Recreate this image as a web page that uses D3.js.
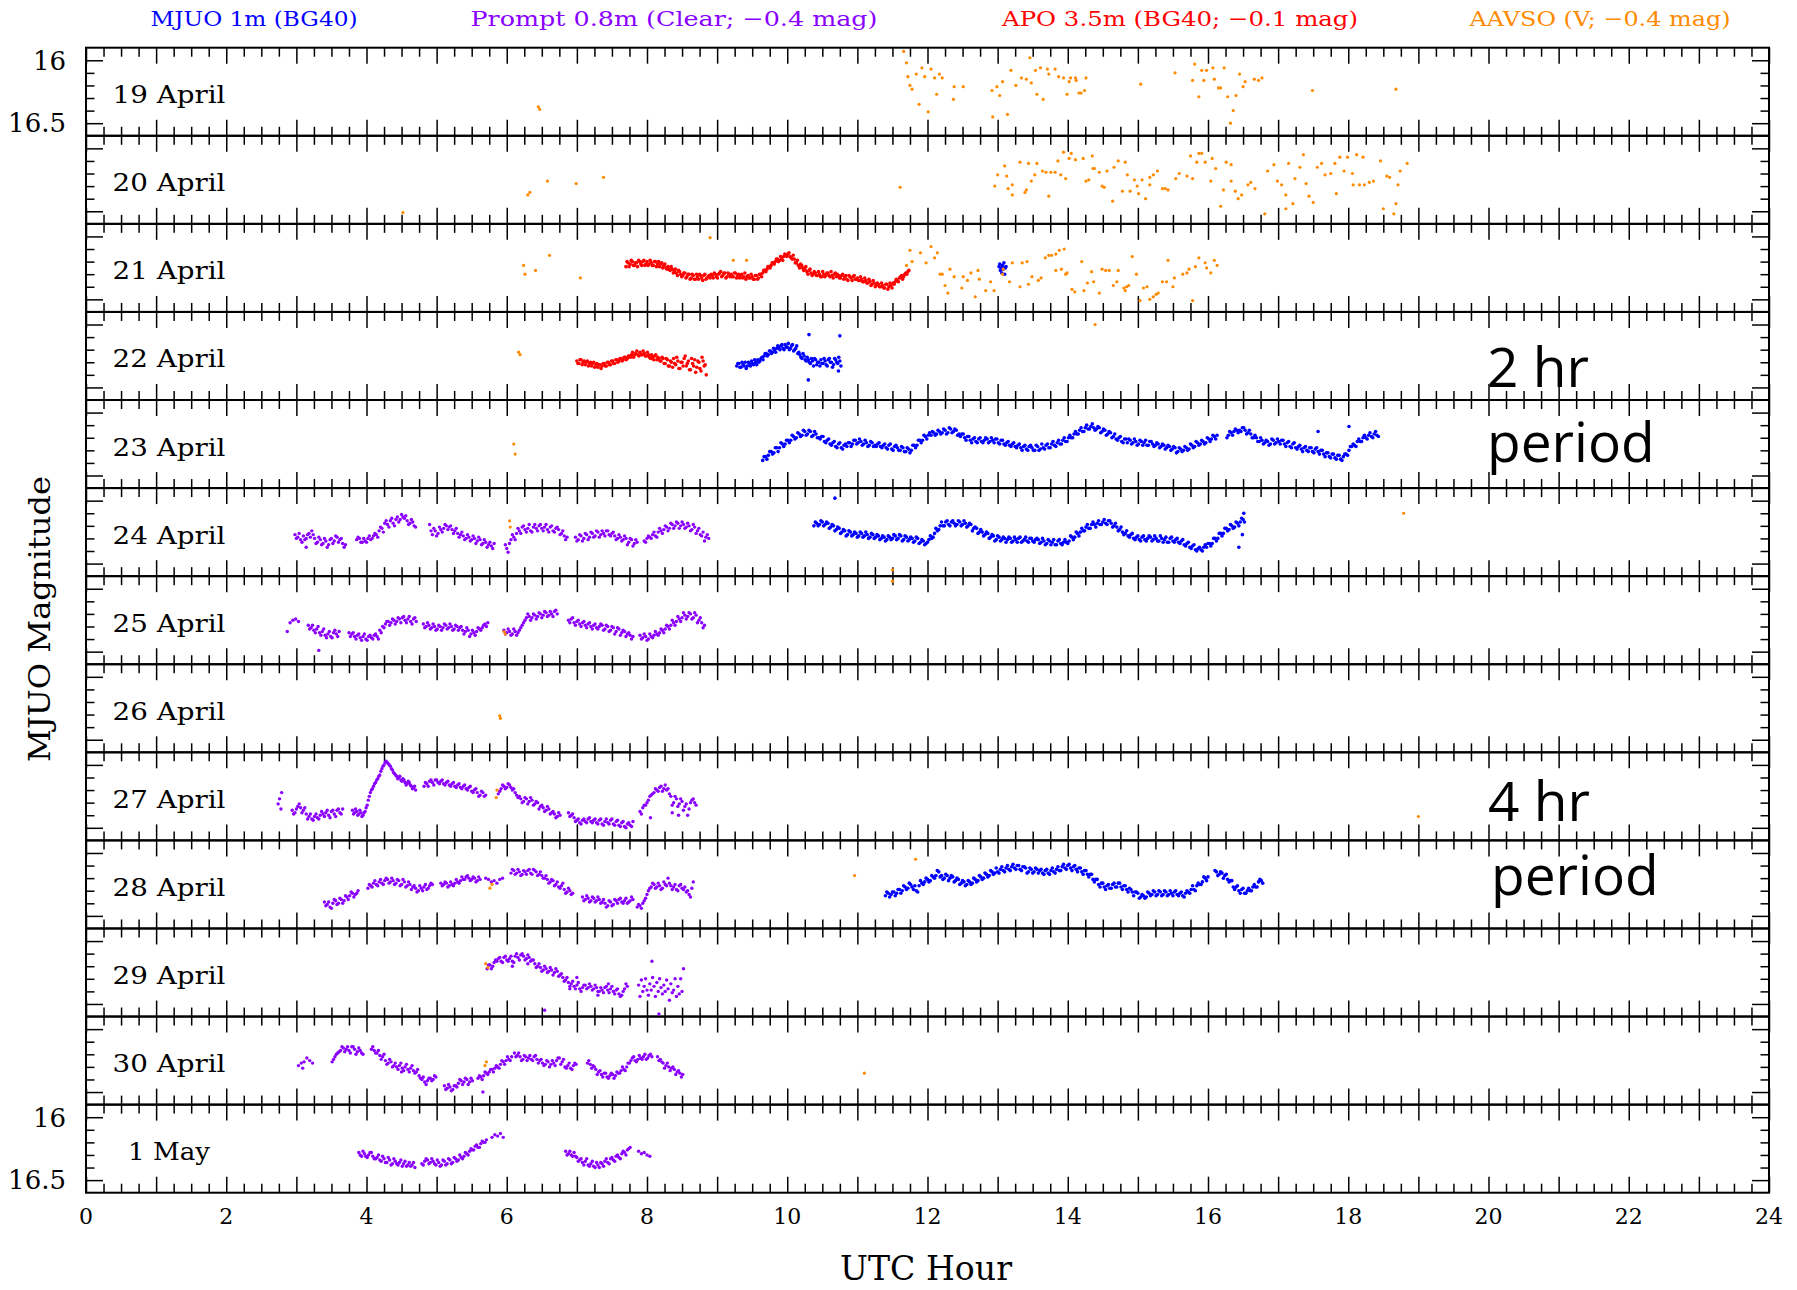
<!DOCTYPE html>
<html>
<head>
<meta charset="utf-8">
<script src="https://cdn.jsdelivr.net/npm/d3@7"></script>
<style>
  body { margin: 0; background: #fff; }
  svg { display: block; }
</style>
</head>
<body>
<svg id="chart" width="1797" height="1290"></svg>
<script>
// ---- Nights (one strip per UTC date) ----
const nights = ["19 April", "20 April", "21 April", "22 April", "23 April", "24 April",
  "25 April", "26 April", "27 April", "28 April", "29 April", "30 April", "1 May"];

// ---- Axis labels ----
const hourLabels = [0, 2, 4, 6, 8, 10, 12, 14, 16, 18, 20, 22, 24];
const magLabels = [16, 16.5];
const magMinor = [16.1, 16.2, 16.3, 16.4];

// ---- Legend ----
const legendItems = [
  { text: "MJUO 1m (BG40)", color: "#0000ff", cx: 254, len: 207 },
  { text: "Prompt 0.8m (Clear; \u22120.4 mag)", color: "#8a00ff", cx: 674, len: 407 },
  { text: "APO 3.5m (BG40; \u22120.1 mag)", color: "#ff0000", cx: 1180, len: 356 },
  { text: "AAVSO (V; \u22120.4 mag)", color: "#ff8a00", cx: 1600, len: 261 }
];

// ---- MJUO 1m photometry: runs at a fixed cadence (hours), magnitudes ----
const mjuoRuns = [
  { night: 2, t0: 13.02, dt: 0.01, mags: [16.24,16.22,16.27,16.25,16.29,16.23,16.26,16.21,16.30,16.25,16.24] },
  { night: 3, t0: 9.28, dt: 0.03, mags: [
    16.33,16.31,16.34,16.32,16.30,16.33,16.31,16.29,16.32,16.30,
    16.28,16.29,16.26,16.25,16.23,16.24,16.21,16.22,16.20,16.19,
    16.18,16.17,16.19,16.16,16.18,16.20,16.17,16.21,16.19,16.23,
    16.24,16.27,16.25,16.29,16.28,16.31,16.29,16.27,16.32,16.30,
    16.28,16.31,16.29,16.33,16.27,16.30,16.32,16.28,16.31,16.29] },
  { night: 3, t0: 9.295, dt: 0.03, mags: [
    16.31,16.34,16.30,16.33,16.35,16.30,16.33,16.31,16.28,16.32,
    16.30,16.27,16.28,16.23,16.25,16.21,16.23,16.19,16.22,16.17,
    16.20,16.16,16.20,16.18,16.15,16.19,16.16,16.20,16.17,16.22,
    16.26,16.23,16.28,16.26,16.30,16.27,16.33,16.28,16.30,16.33,
    16.31,16.27,16.32,16.28,16.30,16.34,16.27,16.30,16.26,16.33] },
  { night: 4, t0: 9.65, dt: 0.04, mags: [
    16.38,16.35,16.34,16.31,16.32,16.28,16.28,16.25,16.25,16.22,
    16.22,16.19,16.20,16.17,16.18,16.15,16.17,16.15,16.18,16.17,
    16.20,16.19,16.23,16.22,16.25,16.24,16.27,16.25,16.28,16.26,
    16.27,16.24,16.25,16.22,16.24,16.23,16.25,16.24,16.26,16.24,
    16.26,16.25,16.27,16.26,16.28,16.26,16.29,16.27,16.28,16.30,
    16.28,16.31,16.29,16.30,16.26,16.26,16.22,16.22,16.19,16.18,
    16.18,16.16,16.17,16.15,16.16,16.14,16.16,16.13,16.15,16.14,
    16.17,16.17,16.20,16.19,16.22,16.21,16.23,16.21,16.23,16.22,
    16.21,16.23,16.22,16.21,16.24,16.22,16.25,16.24,16.26,16.25,
    16.27,16.26,16.28,16.27,16.29,16.27,16.28,16.30,16.27,16.29,
    16.28,16.26,16.28,16.25,16.26,16.24,16.25,16.22,16.23,16.20,
    16.20,16.17,16.17,16.14,16.15,16.12,16.13,16.11,16.12,16.13,
    16.12,16.15,16.14,16.17,16.16,16.19,16.21,16.20,16.23,16.21,
    16.24,16.22,16.24,16.23,16.25,16.23,16.24,16.26,16.23,16.25,
    16.26,16.25,16.27,16.26,16.28,16.27,16.29,16.28,16.31,16.29,
    16.30,16.28,16.29,16.26,16.27,16.24,16.25,16.23,16.24,16.21,
    16.21,16.19,16.18,null,null,null,16.18,16.16,16.15,16.14,
    16.14,16.12,16.14,16.16,16.17,16.20,16.20,16.23,16.22,16.24,
    16.23,16.25,16.22,16.24,16.23,16.22,16.25,16.24,16.27,16.25,
    16.28,16.27,16.29,16.28,16.30,16.28,16.31,16.29,16.31,16.30,
    16.33,16.32,16.35,16.33,16.36,16.34,16.37,16.35,16.33,16.30,
    16.27,16.26,16.23,16.23,16.20,16.20,16.18,16.19,16.17,16.18] },
  { night: 4, t0: 9.67, dt: 0.04, mags: [
    16.35,16.37,16.31,16.33,16.28,16.31,16.24,16.27,16.22,16.24,
    16.18,16.21,16.16,16.19,16.14,16.18,16.14,16.19,16.15,16.20,
    16.21,16.19,16.24,16.21,16.26,16.23,16.28,16.24,16.29,16.25,
    16.24,16.27,16.22,16.25,16.21,16.26,16.22,16.27,16.23,16.27,
    16.27,16.24,16.28,16.25,16.29,16.25,16.30,16.26,16.30,16.27,
    16.31,16.28,16.32,16.26,16.28,16.22,16.24,16.18,16.21,16.16,
    16.15,16.18,16.14,16.17,16.13,16.17,16.12,16.16,16.13,16.18,
    16.19,16.17,16.22,16.19,16.24,16.20,16.24,16.20,16.24,16.20,
    16.24,16.20,16.24,16.21,16.25,16.22,16.26,16.23,16.27,16.24,
    16.28,16.25,16.30,16.26,16.30,16.26,16.30,16.26,16.30,16.25,
    16.29,16.25,16.28,16.23,16.27,16.22,16.25,16.20,16.23,16.18,
    16.20,16.15,16.17,16.12,16.15,16.10,16.13,16.09,16.14,16.11,
    16.16,16.13,16.18,16.15,16.20,16.17,16.22,16.19,16.24,16.21,
    16.21,16.25,16.21,16.26,16.22,16.26,16.22,16.26,16.23,16.27,
    16.24,16.28,16.25,16.29,16.26,16.30,16.27,16.32,16.28,16.31,
    16.27,16.30,16.25,16.28,16.23,16.26,16.22,16.25,16.20,16.23,
    16.18,16.21,null,null,null,16.20,16.15,16.18,16.13,16.16,
    16.15,16.12,16.17,16.14,16.20,16.18,16.23,16.20,16.25,16.22,
    16.26,16.21,16.25,16.21,16.25,16.22,16.27,16.23,16.28,16.24,
    16.29,16.26,16.31,16.27,16.31,16.28,16.32,16.28,16.33,16.30,
    16.35,16.32,16.36,16.33,16.37,16.34,16.38,16.33,16.34,16.27,
    16.25,16.27,16.21,16.23,16.18,16.21,16.16,16.20,16.15,16.19] },
  { night: 5, t0: 10.38, dt: 0.04, mags: [
    16.20,16.18,16.19,16.17,16.19,16.18,16.21,16.20,16.23,16.22,
    16.25,16.24,16.27,16.25,16.27,16.26,16.28,16.26,16.28,16.27,
    16.29,16.27,16.29,16.28,16.30,16.29,16.31,16.29,16.30,16.28,
    16.30,16.28,16.31,16.29,16.31,16.30,16.32,16.30,16.33,16.32,
    16.34,16.31,16.30,16.26,16.24,16.20,16.20,16.17,16.19,16.17,
    16.18,16.19,16.17,16.19,16.18,16.20,16.19,16.22,16.22,16.25,
    16.25,16.27,16.26,16.29,16.28,16.31,16.29,16.31,16.30,16.31,
    16.30,16.32,16.31,16.30,16.33,16.31,16.32,16.30,16.32,16.31,
    16.31,16.33,16.32,16.34,16.32,16.33,16.35,16.32,16.34,16.33,
    16.33,16.32,16.29,16.29,16.26,16.25,16.24,16.21,16.22,16.19,
    16.19,16.18,16.19,16.17,16.18,16.16,16.18,16.20,16.21,16.23,
    16.25,16.26,16.28,16.27,16.30,16.29,16.31,16.29,16.31,16.30,
    16.29,16.31,16.30,16.32,16.30,16.31,16.33,16.30,16.32,16.31,
    16.33,16.32,16.35,16.34,16.37,16.36,16.39,16.38,16.39,16.37,
    16.37,16.34,16.34,16.30,16.30,16.26,16.26,16.22,16.23,16.20,
    16.21,16.18,16.17,16.15] },
  { night: 5, t0: 10.40, dt: 0.04, mags: [
    16.17,16.20,16.16,16.20,16.17,16.22,16.19,16.24,16.21,16.26,
    16.23,16.28,16.24,16.28,16.25,16.29,16.25,16.29,16.25,16.30,
    16.26,16.30,16.27,16.31,16.28,16.32,16.28,16.31,16.27,16.31,
    16.27,16.32,16.28,16.32,16.29,16.33,16.29,16.34,16.31,16.35,
    16.33,16.28,16.29,16.22,16.23,16.17,16.20,16.16,16.20,16.16,
    16.20,16.16,16.20,16.16,16.21,16.18,16.24,16.21,16.26,16.23,
    16.28,16.25,16.30,16.27,16.32,16.28,16.32,16.29,16.33,16.29,
    16.33,16.29,16.33,16.29,16.32,16.29,16.33,16.30,16.33,16.30,
    16.34,16.30,16.35,16.31,16.35,16.31,16.35,16.31,16.35,16.31,
    16.34,16.28,16.31,16.25,16.28,16.22,16.24,16.19,16.22,16.17,
    16.21,16.16,16.19,16.15,16.19,16.16,16.21,16.18,16.24,16.21,
    16.27,16.24,16.29,16.26,16.31,16.28,16.32,16.28,16.32,16.28,
    16.32,16.28,16.32,16.28,16.33,16.29,16.33,16.29,16.33,16.30,
    16.34,16.31,16.36,16.33,16.38,16.35,16.40,16.37,16.40,16.35,
    16.34,16.36,16.30,16.32,16.26,16.28,16.22,16.24,16.19,16.22,
    16.17,16.20,16.14,16.17] },
  { night: 9, t0: 11.40, dt: 0.04, mags: [
    16.34,16.32,16.33,16.31,16.32,16.29,16.30,16.27,16.28,16.25,
    16.29,16.30,16.26,16.24,16.23,16.21,16.22,16.19,16.18,16.15,
    16.18,16.20,16.18,16.20,16.19,16.22,16.21,16.24,16.23,16.25,
    16.23,16.24,16.21,16.22,16.19,16.20,16.17,16.18,16.15,16.16,
    16.15,16.13,16.14,16.12,16.13,16.11,16.12,16.10,16.13,16.11,
    16.12,16.15,16.13,16.15,16.13,16.14,16.16,16.14,16.16,16.14,
    16.15,16.13,16.14,16.11,16.12,16.10,16.12,16.11,16.13,16.12,
    16.15,16.14,16.17,16.17,16.21,16.21,16.25,16.24,16.27,16.26,
    16.28,16.25,16.27,16.24,16.27,16.26,16.29,16.28,16.31,16.31,
    16.32,16.35,16.34,16.35,16.32,16.33,16.31,16.33,16.31,16.33,
    16.31,16.33,16.32,16.31,16.33,16.32,16.34,16.32,16.31,16.29,
    16.29,16.26,16.25,16.23,16.20,16.19,null,null,16.15,16.17,
    16.16,16.18,16.21,16.22,16.27,16.27,16.30,16.29,16.32,16.30,
    16.30,16.27,16.27,16.23,16.22] },
  { night: 9, t0: 11.42, dt: 0.04, mags: [
    16.31,16.35,16.31,16.34,16.29,16.32,16.26,16.29,16.24,16.27,
    16.26,16.31,16.22,16.25,16.20,16.23,16.18,16.20,16.14,16.19,
    16.21,16.17,16.22,16.18,16.23,16.20,16.25,16.22,16.26,16.22,
    16.25,16.20,16.23,16.18,16.21,16.16,16.19,16.14,16.17,16.12,
    16.16,16.11,16.15,16.10,16.14,16.09,16.13,16.10,16.14,16.11,
    16.16,16.12,16.16,16.12,16.16,16.13,16.17,16.13,16.17,16.12,
    16.16,16.11,16.14,16.09,16.13,16.09,16.14,16.10,16.15,16.12,
    16.17,16.14,16.19,16.17,16.23,16.21,16.27,16.24,16.29,16.25,
    16.28,16.24,16.27,16.24,16.29,16.26,16.31,16.29,16.34,16.31,
    16.36,16.33,16.36,16.31,16.34,16.30,16.34,16.30,16.34,16.30,
    16.34,16.30,16.34,16.30,16.34,16.31,16.35,16.30,16.32,16.26,
    16.30,16.24,16.25,16.19,16.22,null,null,16.14,16.18,16.15,
    16.20,16.17,16.23,16.22,16.29,16.26,16.32,16.28,16.32,16.28,
    16.30,16.25,16.27,16.21,16.24] }
];
// isolated MJUO points: [night, hour, mag]
const mjuoExtra = [[3,10.31,16.08],[3,10.75,16.09],[3,10.30,16.44],[3,10.73,16.37],
  [4,17.57,16.15],[4,18.01,16.11],[5,10.68,15.98],[5,16.44,16.37],[5,16.51,16.10],[5,16.49,16.27]];

// ---- Prompt 0.8m photometry ----
const promptRuns = [
  { night: 5, t0: 2.98, dt: 0.04, mags: [16.27,16.29,16.31,16.28,16.30,16.26,16.24,16.30,16.33,16.31,16.34,16.32,16.35,16.30,16.32,16.29,16.31,16.34,16.35] },
  { night: 5, t0: 3.00, dt: 0.04, mags: [16.30,16.26,16.33,16.31,16.27,16.29,16.27,16.34,16.29,16.35,16.30,16.37,16.31,16.34,16.28,16.33,16.30,16.37] },
  { night: 5, t0: 3.86, dt: 0.04, mags: [16.31,16.30,16.33,16.32,16.30,16.31,16.28,16.27,16.24,16.22,16.18,16.19,16.16,16.18,16.15,16.17,16.11,16.14,16.16,16.18,16.17,16.21] },
  { night: 5, t0: 3.88, dt: 0.04, mags: [16.29,16.33,16.30,16.33,16.28,16.30,16.26,16.29,16.21,16.25,16.16,16.21,16.14,16.20,16.13,16.15,16.13,16.12,16.19,16.15,16.20] },
  { night: 5, t0: 4.90, dt: 0.04, mags: [16.19,16.27,16.24,16.26,16.23,16.22,16.20,16.21,16.23,16.24,16.26,16.27,16.28,16.30,16.29,16.31,16.30,16.32,16.31,16.34,16.33,16.35,16.36,16.34] },
  { night: 5, t0: 4.92, dt: 0.04, mags: [16.24,16.22,16.28,16.21,16.25,16.19,16.23,16.20,16.26,16.22,16.29,16.25,16.31,16.27,16.32,16.28,16.34,16.29,16.35,16.31,16.37,16.33,16.38] },
  { night: 5, t0: 5.98, dt: 0.04, mags: [16.35,16.41,16.31,16.29,16.26,16.24,16.21,16.23,16.22,16.24,16.21,16.22,16.20,16.22,16.21,16.23,16.21,16.24,16.22,16.23,16.26,16.28,16.29] },
  { night: 5, t0: 6.00, dt: 0.04, mags: [16.38,16.34,16.27,16.31,16.22,16.26,16.20,16.25,16.19,16.25,16.19,16.24,16.19,16.24,16.19,16.25,16.20,16.25,16.21,16.27,16.24,16.31] },
  { night: 5, t0: 6.98, dt: 0.04, mags: [16.29,16.31,16.28,16.30,16.27,16.29,16.26,16.28,16.25,16.27,16.26,16.24,16.27,16.26,16.28,16.30,16.29,16.31,16.30,16.33,16.31,16.34,16.33] },
  { night: 5, t0: 7.00, dt: 0.04, mags: [16.32,16.27,16.32,16.26,16.31,16.25,16.29,16.24,16.29,16.24,16.28,16.24,16.28,16.25,16.31,16.27,16.32,16.28,16.35,16.30,16.36,16.31] },
  { night: 5, t0: 7.96, dt: 0.04, mags: [16.32,16.30,16.29,16.27,16.28,16.25,16.24,16.23,16.21,16.22,16.19,16.20,16.18,16.20,16.19,16.21,16.20,16.23,16.21,16.24,16.27,16.25,16.29,16.30] },
  { night: 5, t0: 7.98, dt: 0.04, mags: [16.33,16.28,16.30,16.25,16.29,16.22,16.26,16.20,16.24,16.18,16.22,16.17,16.22,16.17,16.22,16.18,16.24,16.19,16.26,16.22,16.28,16.32,16.27] },

  { night: 6, t0: 2.87, dt: 0.04, mags: [16.34,16.27,16.25,16.24,16.26] },
  { night: 6, t0: 3.17, dt: 0.04, mags: [16.29,16.31,16.33,16.32,16.35,16.34,16.37,16.36,16.38,16.35,16.36,16.34] },
  { night: 6, t0: 3.19, dt: 0.04, mags: [16.32,16.29,16.35,16.30,16.37,16.32,16.39,16.34,16.39,16.33,16.38] },
  { night: 6, t0: 3.75, dt: 0.04, mags: [16.35,16.36,16.38,16.37,16.39,16.38,16.40,16.38,16.39,16.37,16.38,16.33,16.30,16.28,16.26,16.27,16.25,16.26,16.24,16.23,16.25,16.24,16.26,16.24,16.26] },
  { night: 6, t0: 3.77, dt: 0.04, mags: [16.38,16.35,16.40,16.36,16.41,16.36,16.41,16.37,16.40,16.36,16.40,16.35,16.31,16.26,16.29,16.24,16.28,16.23,16.27,16.22,16.27,16.22,16.28,16.23] },
  { night: 6, t0: 4.81, dt: 0.04, mags: [16.28,16.30,16.29,16.31,16.30,16.32,16.30,16.31,16.29,16.31,16.30,16.32,16.30,16.31,16.33,16.34,16.33,16.36,16.35,16.34,16.32,16.31,16.28,16.27] },
  { night: 6, t0: 4.83, dt: 0.04, mags: [16.31,16.27,16.32,16.28,16.33,16.29,16.33,16.28,16.32,16.28,16.33,16.29,16.33,16.30,16.36,16.31,16.38,16.33,16.37,16.31,16.33,16.29,16.30] },
  { night: 6, t0: 5.96, dt: 0.04, mags: [16.33,16.35,16.34,16.36,16.34,16.35,16.31,16.27,16.23,16.22,16.23,16.21,16.22,16.20,16.21,16.19,16.21,16.20,16.18,16.20] },
  { night: 6, t0: 5.98, dt: 0.04, mags: [16.36,16.32,16.37,16.32,16.37,16.33,16.29,16.25,16.20,16.25,16.20,16.24,16.19,16.23,16.18,16.22,16.18,16.22,16.17] },
  { night: 6, t0: 6.88, dt: 0.04, mags: [16.25,16.24,16.27,16.26,16.28,16.27,16.29,16.28,16.30,16.29,16.31,16.30,16.29,16.32,16.30,16.33,16.31,16.34,16.32,16.35,16.34,16.36,16.37,16.38] },
  { night: 6, t0: 6.90, dt: 0.04, mags: [16.27,16.23,16.29,16.25,16.30,16.26,16.31,16.27,16.32,16.28,16.32,16.28,16.33,16.29,16.34,16.30,16.36,16.31,16.37,16.33,16.38,16.35,16.40] },
  { night: 6, t0: 7.90, dt: 0.04, mags: [16.37,16.39,16.38,16.40,16.38,16.37,16.36,16.35,16.33,16.32,16.30,16.29,16.27,16.26,16.24,16.23,16.21,16.22,16.20,16.23,16.21,16.25,16.27,16.29] },
  { night: 6, t0: 7.92, dt: 0.04, mags: [16.40,16.36,16.41,16.36,16.39,16.34,16.37,16.32,16.35,16.29,16.32,16.25,16.29,16.22,16.26,16.19,16.24,16.19,16.24,16.19,16.27,16.23,16.31] },

  { night: 8, t0: 2.94, dt: 0.04, mags: [16.36,16.38,16.33,16.34,16.36,16.39,16.41,16.43,16.41,16.42,16.40,16.39,16.38,16.40,16.37,16.39,16.36,16.38,16.35] },
  { night: 8, t0: 2.96, dt: 0.04, mags: [16.39,16.35,16.31,16.38,16.34,16.43,16.39,16.44,16.39,16.43,16.37,16.41,16.36,16.42,16.36,16.41,16.35,16.39] },
  { night: 8, t0: 3.80, dt: 0.03, mags: [16.36,16.38,16.37,16.39,16.38,16.40,16.37,16.32,16.25,16.20,16.17,16.14,16.11,16.08,16.03,16.00,15.97,15.99,16.01,16.04,16.07,16.09,16.10,16.12,16.11,16.14,16.15,16.14,16.17,16.18,16.20] },
  { night: 8, t0: 3.815, dt: 0.03, mags: [16.39,16.35,16.40,16.36,16.41,16.38,16.34,16.28,16.22,16.19,16.15,16.12,16.09,16.05,16.01,15.98,15.98,16.00,16.03,16.06,16.08,16.11,16.09,16.13,16.12,16.16,16.13,16.16,16.19,16.17] },
  { night: 8, t0: 4.82, dt: 0.04, mags: [16.17,16.15,16.13,16.14,16.12,16.14,16.13,16.15,16.14,16.16,16.15,16.17,16.16,16.18,16.17,16.19,16.18,16.21,16.20,16.22,16.24,16.22,16.24] },
  { night: 8, t0: 4.84, dt: 0.04, mags: [16.14,16.17,16.12,16.16,16.12,16.15,16.12,16.16,16.13,16.17,16.14,16.18,16.15,16.19,16.16,16.20,16.17,16.22,16.19,16.25,16.21,16.25] },
  { night: 8, t0: 5.88, dt: 0.04, mags: [16.23,16.19,16.17,16.18,16.16,16.20,16.22,16.26,16.27,16.29,16.27,16.29,16.28,16.31,16.30,16.33,16.34,16.36,16.35,16.38,16.39,16.41,16.40] },
  { night: 8, t0: 5.90, dt: 0.04, mags: [16.21,16.16,16.19,16.15,16.18,16.19,16.24,16.25,16.30,16.26,16.31,16.26,16.32,16.29,16.35,16.32,16.37,16.33,16.39,16.37,16.42,16.38] },
  { night: 8, t0: 6.88, dt: 0.04, mags: [16.38,16.40,16.42,16.44,16.46,16.44,16.45,16.43,16.45,16.44,16.46,16.44,16.47,16.45,16.46,16.44,16.47,16.45,16.48,16.46,16.49,16.47,16.48,16.45] },
  { night: 8, t0: 6.90, dt: 0.04, mags: [16.41,16.39,16.45,16.43,16.47,16.43,16.46,16.42,16.46,16.43,16.47,16.43,16.48,16.43,16.47,16.43,16.48,16.44,16.49,16.45,16.50,16.46,16.49] },
  { night: 8, t0: 7.90, dt: 0.04, mags: [16.37,16.34,16.32,16.28,16.24,16.22,16.20,16.18,16.21,16.16,16.19,16.25,16.30,16.27,16.31,16.29,16.33,16.40,16.30,16.27,16.32] },
  { night: 8, t0: 7.92, dt: 0.04, mags: [16.39,16.32,16.30,16.25,16.23,16.19,16.21,16.17,16.19,16.20,16.23,16.32,16.25,16.33,16.27,16.36,16.31,16.35,16.28,16.30] },

  { night: 9, t0: 3.40, dt: 0.04, mags: [16.39,16.41,16.43,16.40,16.38,16.40,16.37,16.38,16.35,16.34,16.32,16.33,16.30] },
  { night: 9, t0: 3.42, dt: 0.04, mags: [16.42,16.39,16.44,16.37,16.41,16.36,16.40,16.34,16.37,16.31,16.35,16.32] },
  { night: 9, t0: 4.02, dt: 0.04, mags: [16.28,16.26,16.24,16.25,16.23,16.24,16.22,16.21,16.23,16.22,16.24,16.22,16.25,16.23,16.26,16.25,16.27,16.28,16.30,16.28,16.27,16.29,16.26,16.25] },
  { night: 9, t0: 4.04, dt: 0.04, mags: [16.25,16.27,16.22,16.26,16.21,16.25,16.20,16.24,16.20,16.25,16.21,16.26,16.21,16.27,16.23,16.29,16.26,16.31,16.26,16.30,16.25,16.28,16.24] },
  { night: 9, t0: 5.06, dt: 0.04, mags: [16.24,16.25,16.24,16.26,16.25,16.24,16.23,16.22,16.21,16.19,16.20,16.21,16.20,16.22,16.21] },
  { night: 9, t0: 5.08, dt: 0.04, mags: [16.26,16.23,16.27,16.23,16.26,16.21,16.24,16.19,16.21,16.18,16.22,16.19,16.23,16.19] },
  { night: 9, t0: 5.70, dt: 0.04, mags: [16.20,16.21,16.23,16.22,16.24,16.21,16.20] },
  { night: 9, t0: 6.06, dt: 0.04, mags: [16.16,16.14,16.16,16.15,16.17,16.15,16.14,16.16,16.13,16.15,16.17,16.18,16.20,16.21,16.23,16.22,16.25,16.27,16.26,16.29,16.31,16.30,16.32] },
  { night: 9, t0: 6.08, dt: 0.04, mags: [16.13,16.17,16.13,16.18,16.14,16.17,16.13,16.17,16.14,16.18,16.15,16.20,16.18,16.24,16.21,16.26,16.23,16.28,16.24,16.32,16.28,16.33] },
  { night: 9, t0: 7.08, dt: 0.04, mags: [16.35,16.37,16.36,16.38,16.36,16.38,16.37,16.39,16.40,16.42,16.39,16.41,16.38,16.37,16.39,16.38,16.40,16.38,16.37] },
  { night: 9, t0: 7.10, dt: 0.04, mags: [16.38,16.34,16.39,16.35,16.39,16.35,16.40,16.37,16.43,16.38,16.42,16.37,16.40,16.36,16.40,16.36,16.39,16.35] },
  { night: 9, t0: 7.86, dt: 0.04, mags: [16.43,16.42,16.40,16.36,16.30,16.27,16.25,16.27,16.26,16.28,16.25,16.20,16.26,16.27,16.29,16.26,16.28,16.27,16.30,16.35,16.23] },
  { night: 9, t0: 7.88, dt: 0.04, mags: [16.41,16.44,16.38,16.33,16.28,16.24,16.28,16.24,16.29,16.23,16.26,16.24,16.29,16.25,16.30,16.25,16.29,16.31,16.33,16.28] },

  { night: 10, t0: 5.72, dt: 0.04, mags: [
    16.22,16.19,16.20,16.15,16.14,16.16,16.13,16.15,16.14,16.16,
    16.12,16.13,16.11,16.12,16.14,16.13,16.15,16.18,16.20,16.21,
    16.23,16.22,16.24,16.23,16.25,16.24,16.27,16.29,16.31,16.33,
    16.34,16.36,16.35,16.38,16.37,16.35,16.37,16.36,16.38,16.37,
    16.40,16.39,16.37,16.39,16.38,16.40,16.39,16.42,16.43,16.38,16.36] },
  { night: 10, t0: 5.74, dt: 0.04, mags: [
    16.19,16.22,16.17,16.16,16.13,16.17,16.12,16.16,16.12,16.17,
    16.10,16.15,16.10,16.15,16.11,16.16,16.15,16.21,16.18,16.24,
    16.20,16.25,16.21,16.27,16.22,16.28,16.26,16.32,16.29,16.36,
    16.32,16.38,16.33,16.40,16.35,16.38,16.34,16.39,16.35,16.40,
    16.37,16.41,16.36,16.41,16.36,16.42,16.38,16.44,16.40,16.34] },
  { night: 10, t0: 7.88, dt: 0.02, mags: [
    16.35,16.44,16.31,16.40,16.36,16.30,16.39,16.43,16.34,16.39,
    16.29,16.36,16.44,16.33,16.40,16.30,16.37,16.42,16.35,16.40,
    16.31,16.38,16.47,16.34,16.41,16.39,16.30,16.44,16.36,16.42,
    16.30,16.40,16.22] },

  { night: 11, t0: 3.03, dt: 0.04, mags: [16.29,16.27,16.26,16.23,16.25,16.27] },
  { night: 11, t0: 3.51, dt: 0.04, mags: [16.26,16.22,16.19,16.17,16.15,16.16,16.17,16.14,16.16,16.18,16.17,16.20] },
  { night: 11, t0: 3.53, dt: 0.04, mags: [16.24,16.20,16.18,16.14,16.18,16.14,16.19,16.14,16.20,16.15,16.19] },
  { night: 11, t0: 4.07, dt: 0.04, mags: [16.16,16.17,16.19,16.21,16.22,16.25,16.27,16.26,16.29,16.30,16.29,16.31,16.30,16.32,16.31,16.33,16.34,16.37,16.40,16.42,16.41,16.39,16.40,16.38] },
  { night: 11, t0: 4.09, dt: 0.04, mags: [16.14,16.19,16.17,16.24,16.20,16.28,16.24,16.30,16.27,16.32,16.27,16.33,16.28,16.34,16.29,16.35,16.32,16.39,16.38,16.44,16.39,16.41,16.37] },
  { night: 11, t0: 5.11, dt: 0.04, mags: [16.45,16.47,16.46,16.48,16.45,16.43,16.41,16.42,16.40,16.42,16.41] },
  { night: 11, t0: 5.13, dt: 0.04, mags: [16.48,16.44,16.49,16.45,16.46,16.40,16.44,16.39,16.44,16.39] },
  { night: 11, t0: 5.59, dt: 0.04, mags: [16.39,16.38,16.37,16.35,16.34,16.32,16.31,16.30,16.28,16.26,16.25,16.24,16.22] },
  { night: 11, t0: 5.61, dt: 0.04, mags: [16.37,16.40,16.34,16.36,16.32,16.34,16.29,16.31,16.25,16.28,16.22,16.25] },
  { night: 11, t0: 6.11, dt: 0.04, mags: [16.19,16.21,16.22,16.24,16.22,16.23,16.24,16.22,16.24,16.25,16.27,16.28,16.26,16.28,16.27,16.25,16.23,16.26,16.30,16.29,16.31,16.29,16.28] },
  { night: 11, t0: 6.13, dt: 0.04, mags: [16.22,16.19,16.25,16.21,16.25,16.21,16.25,16.21,16.27,16.24,16.29,16.25,16.30,16.25,16.29,16.23,16.28,16.24,16.31,16.27,16.32,16.27] },
  { night: 11, t0: 7.15, dt: 0.04, mags: [16.27,16.28,16.29,16.32,16.34,16.36,16.35,16.38,16.37,16.36,16.37,16.35,16.33,16.32,16.30,16.27,16.23,16.25,16.24,16.23,16.22,16.24,16.21,16.22] },
  { night: 11, t0: 7.17, dt: 0.04, mags: [16.25,16.31,16.30,16.36,16.33,16.38,16.35,16.39,16.35,16.39,16.34,16.35,16.30,16.33,16.27,16.25,16.22,16.26,16.21,16.24,16.20,16.23,16.20] },
  { night: 11, t0: 8.15, dt: 0.04, mags: [16.22,16.24,16.27,16.29,16.30,16.31,16.32,16.34,16.35,16.36] },
  { night: 11, t0: 8.17, dt: 0.04, mags: [16.25,16.26,16.31,16.27,16.33,16.30,16.36,16.33,16.38] },

  { night: 12, t0: 3.89, dt: 0.04, mags: [16.28,16.31,16.29,16.32,16.28,16.31,16.33,16.30,16.35,16.33,16.36,16.34,16.37,16.35,16.38,16.34,16.37,16.39,16.36,16.38,16.40] },
  { night: 12, t0: 3.91, dt: 0.04, mags: [16.30,16.27,16.31,16.30,16.28,16.33,16.32,16.34,16.31,16.36,16.32,16.38,16.33,16.37,16.36,16.39,16.35,16.38,16.39,16.36] },
  { night: 12, t0: 4.79, dt: 0.04, mags: [16.37,16.35,16.34,16.36,16.35,16.38,16.36,16.38,16.35,16.37,16.34,16.36,16.33,16.34,16.32,16.31,16.29,16.27,16.26,16.23,16.24,16.21,16.20,16.18] },
  { night: 12, t0: 4.81, dt: 0.04, mags: [16.38,16.33,16.37,16.33,16.37,16.34,16.39,16.34,16.38,16.33,16.37,16.32,16.35,16.30,16.33,16.28,16.30,16.25,16.26,16.22,16.24,16.19,16.20] },
  { night: 12, t0: 5.79, dt: 0.04, mags: [16.16,16.14,16.15,16.13,16.16] },
  { night: 12, t0: 6.84, dt: 0.04, mags: [16.27,16.29,16.30,16.28,16.32,16.34,16.36,16.35,16.38,16.37,16.39,16.36,16.40,16.37,16.35,16.36,16.33,16.34,16.31,16.32,16.29,16.28,16.26,16.24] },
  { night: 12, t0: 6.86, dt: 0.04, mags: [16.30,16.27,16.31,16.31,16.35,16.33,16.38,16.33,16.39,16.35,16.40,16.38,16.36,16.39,16.33,16.37,16.32,16.35,16.30,16.33,16.27,16.30,16.25] },
  { night: 12, t0: 7.88, dt: 0.04, mags: [16.27,16.29,16.28,16.30,16.31] }
];
const promptExtra = [[5,3.14,16.37],[6,3.32,16.49],[8,2.74,16.31],[8,2.76,16.27],[8,2.79,16.22],[8,2.78,16.35],
  [8,8.05,16.42],[8,8.36,16.38],[8,8.45,16.40],[10,6.54,16.55],[10,8.07,16.16],[10,8.17,16.58],
  [10,6.08,16.20],[10,6.30,16.18],[10,7.00,16.29],[10,7.30,16.43],[10,7.45,16.34],[10,6.90,16.38],
  [11,5.66,16.50],[11,3.09,16.31],[11,4.50,16.34]];

// ---- APO 3.5m photometry ----
const apoRuns = [
  { night: 2, t0: 7.70, dt: 0.03, mags: [
    16.24,16.21,16.22,16.20,16.23,16.21,16.19,16.22,16.20,16.23,
    16.20,16.22,16.21,16.23,16.20,16.22,16.24,16.21,16.23,16.25,
    16.24,16.27,16.26,16.28,16.29,16.27,16.30,16.31,16.29,16.32,
    16.30,16.33,16.31,16.34,16.32,16.30,16.33,16.31,16.34,16.32,
    16.33,16.31,16.29,16.32,16.30,16.28,16.31,16.29,16.32,16.30,
    16.30,16.32,16.29,16.31,16.33,16.30,16.32,16.34,16.31,16.33,
    16.32,16.34,16.31,16.33,16.30,16.29,16.27,16.26,16.24,16.23,
    16.21,16.20,16.18,16.19,16.17,16.16,16.15,16.14,16.16,16.18,
    16.18,16.21,16.23,16.22,16.25,16.26,16.28,16.27,16.29,16.30,
    16.29,16.31,16.30,16.32,16.30,16.31,16.29,16.32,16.31,16.30,
    16.32,16.31,16.33,16.30,16.32,16.34,16.31,16.33,16.32,16.34,
    16.33,16.35,16.34,16.36,16.35,16.37,16.36,16.38,16.37,16.39,
    16.38,16.40,16.39,16.41,16.38,16.40,16.39,16.37,16.36,16.35,
    16.33,16.31,16.32,16.29,16.28] },
  { night: 2, t0: 7.715, dt: 0.03, mags: [
    16.20,16.24,16.19,16.23,16.21,16.24,16.20,16.23,16.19,16.22,
    16.23,16.19,16.23,16.20,16.24,16.20,16.22,16.25,16.22,16.26,
    16.26,16.24,16.29,16.26,16.31,16.28,16.32,16.29,16.33,16.30,
    16.34,16.30,16.34,16.30,16.34,16.31,16.35,16.30,16.33,16.31,
    16.30,16.33,16.30,16.33,16.29,16.32,16.29,16.33,16.29,16.32,
    16.32,16.29,16.33,16.30,16.31,16.33,16.29,16.32,16.33,16.30,
    16.34,16.31,16.34,16.30,16.32,16.27,16.28,16.24,16.25,16.21,
    16.22,16.18,16.20,16.16,16.19,16.14,16.16,16.13,16.17,16.15,
    16.21,16.19,16.25,16.23,16.27,16.24,16.30,16.26,16.31,16.28,
    16.31,16.28,16.32,16.28,16.32,16.29,16.31,16.28,16.33,16.29,
    16.30,16.33,16.31,16.34,16.31,16.35,16.32,16.35,16.31,16.34,
    16.35,16.32,16.36,16.33,16.37,16.34,16.39,16.35,16.40,16.37,
    16.40,16.37,16.41,16.38,16.42,16.37,16.41,16.38,16.34,16.36,
    16.32,16.34,16.30,16.30,16.27] },
  { night: 3, t0: 7.00, dt: 0.03, mags: [
    16.29,16.31,16.28,16.30,16.32,16.29,16.31,16.33,16.30,16.32,
    16.34,16.32,16.33,16.31,16.33,16.30,16.32,16.29,16.31,16.28,
    16.29,16.27,16.28,16.26,16.27,16.25,16.24,16.26,16.23,16.24,
    16.22,16.24,16.23,16.25,16.24,16.27,16.26,16.25,16.28,16.27,
    16.29,16.27,16.31,16.28,16.33,16.30,16.27,16.32,16.29,16.35,
    16.30,16.27,16.33,16.29,16.36,16.31,16.28,16.34,16.30,16.37,16.29,16.32] },
  { night: 3, t0: 7.015, dt: 0.03, mags: [
    16.31,16.28,16.32,16.29,16.30,16.33,16.30,16.31,16.34,16.31,
    16.32,16.35,16.31,16.33,16.30,16.32,16.29,16.31,16.28,16.30,
    16.27,16.29,16.26,16.28,16.25,16.26,16.22,16.24,16.21,16.25,
    16.24,16.21,16.25,16.22,16.26,16.24,16.28,16.24,16.26,16.29,
    16.26,16.31,16.27,16.33,16.29,16.34,16.31,16.26,16.35,16.30,
    16.33,16.25,16.31,16.36,16.27,16.33,16.38,16.29,16.35,16.26,16.33,16.40] }
];

// ---- AAVSO V-band points: [hour, mag] per night ----
const aavso = [
  { night: 0, pts: [[6.45,16.37],[6.47,16.39],[11.66,15.93],[11.70,16.02],[11.92,16.06],[12.05,16.07],[11.72,16.13],[11.84,16.11],[11.96,16.13],[12.17,16.11],[12.10,16.14],[12.21,16.14],[11.75,16.20],[11.78,16.23],[12.13,16.27],[12.38,16.21],[12.51,16.21],[12.37,16.31],[11.88,16.35],[12.01,16.41],[12.93,16.45],[13.14,16.43],[13.46,15.98],[13.19,16.08],[13.54,16.08],[13.61,16.06],[13.71,16.07],[13.82,16.07],[13.34,16.14],[13.41,16.15],[13.48,16.18],[13.26,16.20],[13.07,16.17],[12.99,16.21],[12.92,16.24],[13.03,16.28],[13.56,16.27],[13.65,16.31],[13.73,16.11],[13.87,16.13],[13.94,16.14],[14.04,16.14],[14.11,16.14],[14.02,16.17],[14.12,16.16],[14.26,16.14],[13.99,16.27],[14.16,16.26],[14.19,16.26],[14.24,16.24],[15.04,16.19],[15.53,16.10],[15.81,16.03],[15.91,16.08],[15.98,16.08],[16.07,16.06],[16.23,16.06],[16.09,16.15],[15.94,16.16],[15.78,16.16],[16.15,16.22],[16.18,16.22],[15.87,16.29],[16.28,16.29],[16.40,16.28],[16.45,16.11],[16.53,16.17],[16.50,16.21],[16.66,16.15],[16.72,16.16],[16.77,16.14],[16.36,16.40],[16.32,16.50],[17.49,16.24],[18.68,16.23]] },
  { night: 1, pts: [[4.52,16.51],[6.30,16.37],[6.33,16.35],[6.58,16.26],[6.99,16.28],[7.38,16.23],[11.61,16.31],[12.96,16.30],[13.00,16.21],[13.10,16.14],[13.13,16.22],[13.21,16.29],[13.32,16.11],[13.44,16.12],[13.56,16.12],[13.48,16.26],[13.53,16.21],[13.64,16.18],[13.69,16.19],[13.76,16.19],[13.82,16.19],[13.86,16.10],[13.94,16.03],[14.05,16.04],[14.02,16.08],[14.11,16.09],[13.90,16.21],[13.97,16.24],[14.22,16.08],[14.35,16.06],[14.36,16.16],[14.38,16.16],[14.45,16.19],[14.56,16.18],[14.66,16.15],[14.72,16.10],[14.82,16.11],[14.85,16.21],[14.30,16.25],[14.26,16.26],[14.49,16.30],[14.52,16.31],[14.64,16.42],[14.78,16.34],[14.89,16.34],[15.01,16.36],[14.95,16.25],[15.06,16.25],[15.17,16.23],[15.17,16.29],[15.22,16.21],[15.28,16.18],[15.35,16.32],[15.39,16.32],[15.43,16.33],[15.54,16.24],[15.59,16.20],[15.70,16.22],[15.78,16.24],[15.75,16.06],[15.84,16.11],[15.87,16.04],[15.91,16.04],[15.96,16.11],[16.06,16.08],[16.11,16.16],[16.26,16.11],[16.33,16.13],[16.04,16.26],[16.22,16.33],[16.33,16.26],[16.43,16.40],[16.48,16.37],[16.57,16.29],[16.61,16.27],[16.67,16.32],[16.39,16.34],[16.85,16.18],[16.94,16.13],[16.99,16.26],[17.05,16.29],[17.11,16.37],[17.15,16.12],[17.24,16.24],[17.31,16.15],[17.36,16.05],[17.40,16.28],[17.50,16.43],[17.56,16.15],[17.62,16.12],[17.67,16.21],[17.75,16.20],[17.81,16.12],[17.88,16.07],[17.99,16.07],[18.12,16.05],[18.21,16.07],[17.94,16.18],[18.06,16.20],[18.07,16.29],[18.16,16.29],[18.23,16.29],[18.30,16.27],[18.36,16.26],[18.46,16.10],[18.55,16.22],[18.59,16.23],[18.71,16.29],[18.74,16.18],[18.84,16.12],[17.83,16.36],[17.44,16.38],[17.21,16.44],[17.11,16.48],[16.18,16.46],[16.81,16.52],[18.50,16.48],[18.65,16.52],[18.68,16.44],[13.21,16.37],[13.15,16.32],[13.39,16.35],[13.41,16.33],[13.73,16.38],[15.11,16.40],[14.99,16.30]] },
  { night: 2, pts: [[6.24,16.23],[6.26,16.30],[6.41,16.27],[6.61,16.15],[7.05,16.33],[8.90,16.01],[9.23,16.19],[9.42,16.19],[11.70,16.23],[11.75,16.11],[11.90,16.13],[11.78,16.20],[11.98,16.21],[12.05,16.08],[12.10,16.17],[12.14,16.13],[12.18,16.30],[12.21,16.30],[12.32,16.26],[12.38,16.32],[12.25,16.39],[12.29,16.45],[12.49,16.41],[12.51,16.32],[12.62,16.29],[12.57,16.35],[12.68,16.48],[12.72,16.27],[12.74,16.34],[12.83,16.43],[12.90,16.36],[12.95,16.43],[13.07,16.30],[13.17,16.36],[13.21,16.21],[13.35,16.21],[13.42,16.20],[13.49,16.32],[13.44,16.38],[13.32,16.40],[13.58,16.35],[13.62,16.33],[13.68,16.17],[13.73,16.15],[13.77,16.15],[13.83,16.14],[13.88,16.11],[13.95,16.10],[13.91,16.26],[13.83,16.27],[13.99,16.29],[13.97,16.30],[14.06,16.42],[14.10,16.44],[14.20,16.20],[14.23,16.43],[14.28,16.37],[14.34,16.28],[14.37,16.36],[14.45,16.45],[14.49,16.26],[14.54,16.27],[14.59,16.27],[14.65,16.39],[14.72,16.27],[14.70,16.36],[14.80,16.41],[14.84,16.40],[14.87,16.39],[14.82,16.43],[14.92,16.16],[14.98,16.30],[15.03,16.51],[15.08,16.41],[15.13,16.40],[15.17,16.50],[15.22,16.48],[15.26,16.46],[15.29,16.45],[15.35,16.36],[15.41,16.36],[15.43,16.19],[15.50,16.40],[15.52,16.33],[15.64,16.30],[15.70,16.29],[15.73,16.26],[15.78,16.51],[15.82,16.24],[15.87,16.17],[15.96,16.21],[15.98,16.25],[16.04,16.29],[16.09,16.19],[16.13,16.23],[13.08,16.26]] },
  { night: 3, pts: [[6.17,16.22],[6.19,16.24],[14.39,16.00]] },
  { night: 4, pts: [[6.10,16.25],[6.12,16.33]] },
  { night: 5, pts: [[6.04,16.16],[6.05,16.21],[11.50,16.55],[18.79,16.10]] },
  { night: 6, pts: [[5.96,16.34],[5.98,16.36],[11.50,15.94]] },
  { night: 7, pts: [[5.90,16.31],[5.91,16.33]] },
  { night: 8, pts: [[5.86,16.20],[5.85,16.26],[19.00,16.41]] },
  { night: 9, pts: [[5.79,16.25],[5.76,16.28],[10.96,16.18],[11.83,16.05]] },
  { night: 10, pts: [[5.70,16.18],[5.73,16.21]] },
  { night: 11, pts: [[5.71,16.26],[5.69,16.29],[11.10,16.35]] }
];

// ---- Layout ----
const svg = d3.select("#chart");
const plotLeft = 86, plotRight = 1769, plotTop = 47.7, plotBottom = 1192.7;
const panelH = (plotBottom - plotTop) / nights.length;
const x = d3.scaleLinear().domain([0, 24]).range([plotLeft, plotRight]);
const y = d3.scaleLinear().domain([15.9, 16.6]).range([0, panelH]);
const serif = "'DejaVu Serif', 'Liberation Serif', serif";

const hourMajor = d3.range(0, 25);
const hourMinor = d3.range(0, 24, 0.25).filter(v => v % 1 !== 0);

function styleAxis(sel) {
  sel.select(".domain").remove();
  sel.selectAll(".tick line").attr("stroke", "#000").attr("stroke-width", 1.5);
  sel.selectAll(".tick text").remove();
}

const panels = svg.selectAll("g.panel").data(nights).join("g")
  .attr("class", "panel")
  .attr("transform", (d, i) => `translate(0,${plotTop + i * panelH})`);

panels.each(function (name, i) {
  const g = d3.select(this);
  // hour ticks along top and bottom edges, pointing inward
  g.append("g").call(d3.axisBottom(x).tickValues(hourMajor).tickSize(16)).call(styleAxis);
  g.append("g").call(d3.axisBottom(x).tickValues(hourMinor).tickSize(9)).call(styleAxis);
  g.append("g").attr("transform", `translate(0,${panelH})`)
    .call(d3.axisTop(x).tickValues(hourMajor).tickSize(16)).call(styleAxis);
  g.append("g").attr("transform", `translate(0,${panelH})`)
    .call(d3.axisTop(x).tickValues(hourMinor).tickSize(9)).call(styleAxis);
  // magnitude ticks on both sides
  g.append("g").attr("transform", `translate(${plotLeft},0)`)
    .call(d3.axisRight(y).tickValues(magLabels).tickSize(17)).call(styleAxis);
  g.append("g").attr("transform", `translate(${plotLeft},0)`)
    .call(d3.axisRight(y).tickValues(magMinor).tickSize(8.5)).call(styleAxis);
  g.append("g").attr("transform", `translate(${plotRight},0)`)
    .call(d3.axisLeft(y).tickValues(magLabels).tickSize(17)).call(styleAxis);
  g.append("g").attr("transform", `translate(${plotRight},0)`)
    .call(d3.axisLeft(y).tickValues(magMinor).tickSize(8.5)).call(styleAxis);

  g.append("rect")
    .attr("x", plotLeft).attr("y", 0)
    .attr("width", plotRight - plotLeft).attr("height", panelH)
    .attr("fill", "none").attr("stroke", "#000").attr("stroke-width", 2);

  g.append("text")
    .attr("x", 169).attr("y", 55.5)
    .attr("text-anchor", "middle")
    .attr("font-family", serif).attr("font-size", 25)
    .attr("textLength", name.length > 6 ? 113 : 82)
    .attr("lengthAdjust", "spacingAndGlyphs")
    .text(name);

  if (i === 0 || i === nights.length - 1) {
    g.selectAll("text.maglab").data(magLabels).join("text")
      .attr("class", "maglab")
      .attr("x", 66).attr("y", d => y(d) + 9.3)
      .attr("text-anchor", "end")
      .attr("font-family", serif).attr("font-size", 26)
      .text(d => d);
  }
});

// ---- Points ----
function runPoints(runs) {
  return runs.flatMap(r => r.mags.map((m, k) => m == null ? null : { night: r.night, h: r.t0 + k * r.dt, m }))
    .filter(Boolean);
}
const extraPoints = arr => arr.map(([night, h, m]) => ({ night, h, m }));

const layers = [
  { color: "#8a00ff", pts: runPoints(promptRuns).concat(extraPoints(promptExtra)), r: 1.7 },
  { color: "#ff0000", pts: runPoints(apoRuns), r: 1.8 },
  { color: "#0000ff", pts: runPoints(mjuoRuns).concat(extraPoints(mjuoExtra)), r: 1.8 },
  { color: "#ff8a00", pts: aavso.flatMap(n => n.pts.map(([h, m]) => ({ night: n.night, h, m }))), r: 1.6 }
];

layers.forEach(layer => {
  svg.append("g").selectAll("circle").data(layer.pts).join("circle")
    .attr("cx", d => x(d.h))
    .attr("cy", d => plotTop + d.night * panelH + y(d.m))
    .attr("r", layer.r)
    .attr("fill", layer.color);
});

// ---- Hour labels under the last strip ----
svg.append("g").selectAll("text").data(hourLabels).join("text")
  .attr("x", d => x(d)).attr("y", 1224)
  .attr("text-anchor", "middle")
  .attr("font-family", serif).attr("font-size", 22)
  .text(d => d);

// ---- Axis titles ----
svg.append("text")
  .attr("x", 926).attr("y", 1280)
  .attr("text-anchor", "middle")
  .attr("font-family", serif).attr("font-size", 33)
  .attr("textLength", 172).attr("lengthAdjust", "spacingAndGlyphs")
  .text("UTC Hour");

svg.append("text")
  .attr("transform", "translate(50,619) rotate(-90)")
  .attr("text-anchor", "middle")
  .attr("font-family", serif).attr("font-size", 30)
  .attr("textLength", 286).attr("lengthAdjust", "spacingAndGlyphs")
  .text("MJUO Magnitude");

// ---- Legend ----
svg.append("g").selectAll("text").data(legendItems).join("text")
  .attr("x", d => d.cx).attr("y", 26)
  .attr("text-anchor", "middle")
  .attr("font-family", serif).attr("font-size", 21)
  .attr("fill", d => d.color)
  .attr("textLength", d => d.len).attr("lengthAdjust", "spacingAndGlyphs")
  .text(d => d.text);

// ---- Period annotations ----
const notes = [
  { text: "2 hr", x: 1487, y: 387 },
  { text: "period", x: 1487, y: 461.5 },
  { text: "4 hr", x: 1488, y: 821 },
  { text: "period", x: 1491, y: 895 }
];
svg.append("g").selectAll("text").data(notes).join("text")
  .attr("x", d => d.x).attr("y", d => d.y)
  .attr("font-family", "'Open Sans', 'Noto Sans', sans-serif")
  .attr("font-size", 55)
  .attr("fill", "#000")
  .text(d => d.text);
</script>
</body>
</html>
